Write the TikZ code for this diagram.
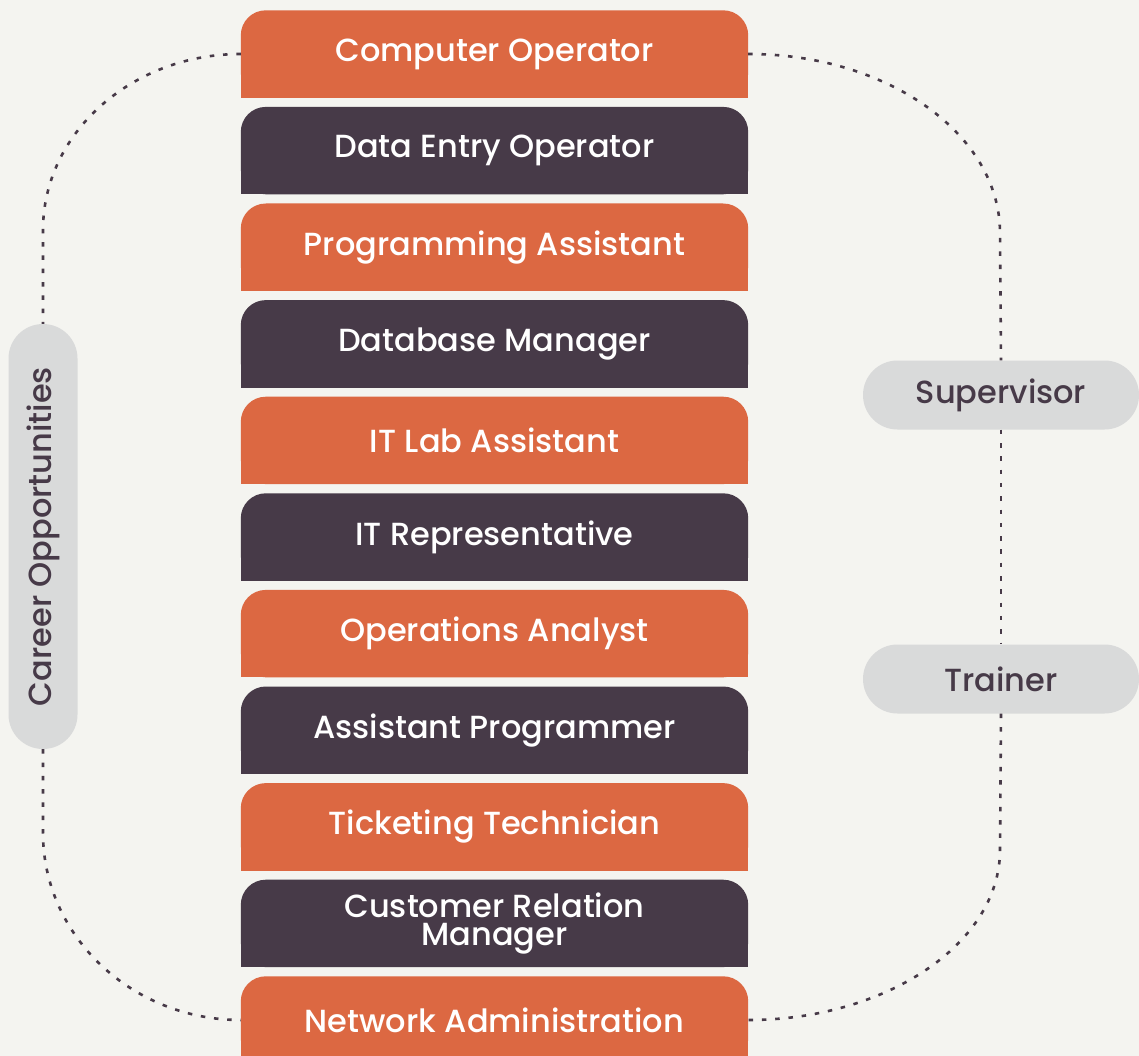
\documentclass[tikz,border=0pt]{standalone}
\usepackage{fontspec}
\setmainfont{Poppins Medium}
\usepackage{xcolor}
\usepackage{tikz}
\usetikzlibrary{calc}
\definecolor{jobOrange}{RGB}{220,104,66}
\definecolor{jobPlum}{RGB}{71,58,72}
\definecolor{pillGrey}{RGB}{217,218,218}
\definecolor{paper}{RGB}{244,244,240}
\pgfdeclarelayer{paperlayer}
\pgfdeclarelayer{boxlayer}
\pgfsetlayers{paperlayer,boxlayer,main}
\tikzset{
jobbox/.style={minimum width=507pt, minimum height=87pt, inner sep=0pt, text=white,
  align=center, font=\fontsize{32}{28.5}\selectfont},
pill/.style={fill=pillGrey, text=jobPlum, rounded corners=34.5pt, minimum height=69pt,
  inner sep=0pt, font=\fontsize{32}{28}\selectfont},
dotline/.style={jobPlum, line width=2.6pt, dash pattern=on 4.5pt off 8.8pt}
}

\begin{document}
\begin{tikzpicture}[x=1pt,y=-1pt]
\useasboundingbox (0,0) rectangle (1139,1056);
\begin{pgfonlayer}{paperlayer}
\fill[paper] (0,0) rectangle (1139,1056);
\end{pgfonlayer}
\foreach \job [count=\i] in {Computer Operator, Data Entry Operator, Programming Assistant,
  Database Manager, IT Lab Assistant, IT Representative, Operations Analyst,
  Assistant Programmer, Ticketing Technician, {Customer Relation\\Manager},
  Network Administration}{
  \pgfmathsetmacro{\ypos}{54+96.6*(\i-1)}
  \ifodd\i \def\boxcol{jobOrange}\else \def\boxcol{jobPlum}\fi
  \node[jobbox] (b\i) at (494.5,\ypos) {\job};
  \begin{pgfonlayer}{boxlayer}
  \fill[\boxcol, rounded corners=25pt] (b\i.south west) rectangle (b\i.north east);
  \fill[\boxcol] (b\i.south west) rectangle (b\i.east);
  \end{pgfonlayer}
}
\node[pill, minimum width=276pt] (sup) at (1001,395) {Supervisor};
\node[pill, minimum width=276pt] (trn) at (1001,679) {Trainer};
\node[pill, minimum width=425pt, rotate=90] (cp) at (43,536.5) {Career Opportunities};
\coordinate (lt) at (43,230);
\coordinate (lb) at (43,833);
\coordinate (rt) at (1000,233);
\coordinate (rb) at (1000,850);
\draw[dotline] (b1.west) .. controls +(-109,0) and +(0,-97) .. (lt) -- (cp.east);
\draw[dotline] (cp.west) -- (lb) .. controls +(0,103) and +(-109,0) .. (b11.west);
\draw[dotline] (b1.east) .. controls +(139,0) and +(0,-99) .. (rt) -- (sup.north);
\draw[dotline] (sup.south) -- (trn.north);
\draw[dotline] (trn.south) -- (rb) .. controls +(0,94) and +(137,0) .. (b11.east);
\end{tikzpicture}
\end{document}
